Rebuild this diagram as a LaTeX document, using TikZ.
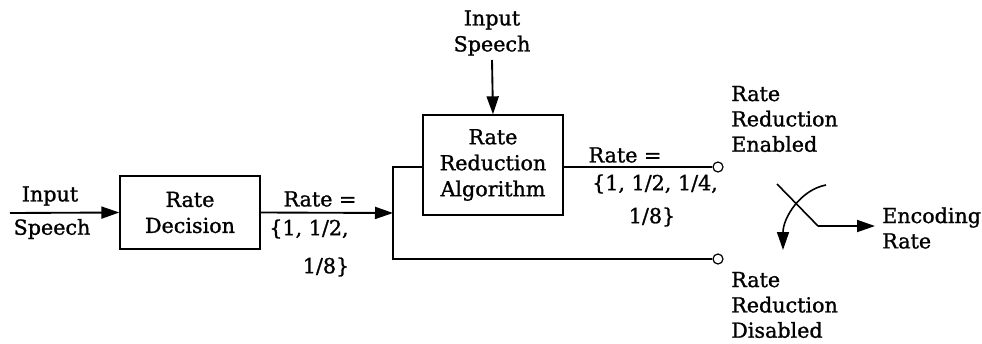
\documentclass[tikz,border=0pt]{standalone}
\usepackage{fontspec}
\setmainfont{DejaVu Serif}[FakeBold=1.2]
\usetikzlibrary{arrows.meta}
\begin{document}
\begin{tikzpicture}[x=0.75pt,y=-0.75pt,
  txt/.style={font=\fontsize{15.5}{19.5}\selectfont, inner sep=0pt, align=center},
  ltxt/.style={font=\fontsize{15.5}{19}\selectfont, inner sep=0pt, align=left, anchor=west},
  block/.style={draw, line width=1pt, txt},
  wire/.style={line width=1.4pt},
  arr/.style={wire, -{Triangle[length=13.5pt,width=9pt]}},
  term/.style={draw, circle, line width=0.9pt, minimum size=7.5pt, inner sep=0pt, fill=white}]
\useasboundingbox (0,0) rectangle (982,343);

% blocks
\node[block, minimum width=105pt, minimum height=54.75pt] (rd) at (190,212.5) {Rate\\Decision};
\node[block, minimum width=105pt, minimum height=75pt] (rra) at (493,165) {Rate\\Reduction\\Algorithm};

% switch terminals
\node[term] (en) at (718,167) {};
\node[term] (dis) at (718,259) {};

% junction points
\coordinate (in) at (10,213);
\coordinate (jm) at (393,213);
\coordinate (jt) at (393,167);
\coordinate (jb) at (393,259);

% input speech into the rate decision
\draw[arr] (in) -- (rd.west);
\node[txt] at (50,196) {Input};
\node[txt] at (52,229) {Speech};

% rate decision output
\draw[arr] (rd.east) -- (jm);
\node[txt] at (320,199) {Rate =};
\node[txt] at (309,229) {\{1, 1/2,};
\node[txt] at (326,267) {1/8\}};

% branch to the algorithm and bypass
\draw[wire] (rra.west |- jt) -- (jt) -- (jb) -- (dis.west);
\draw[wire] (rra.east |- en) -- (en.west);

% second speech input
\node[txt] (sp) at (492,33) {Input\\Speech};
\draw[arr] (492,60) -- (rra.north);

% algorithm output label
\node[txt] at (625,155) {Rate =};
\node[txt] at (655,184) {\{1, 1/2, 1/4,};
\node[txt] at (652,217) {1/8\}};

% terminal labels
\node[ltxt] at (731,119) {Rate\\Reduction\\Enabled};
\node[ltxt] at (731,305) {Rate\\Reduction\\Disabled};

% switch blade and output
\coordinate (b1) at (777,184);
\coordinate (b2) at (818,226);
\coordinate (out) at (875,226);
\draw[wire, line width=1.2pt] (b1) -- (b2);
\draw[arr] (b2) -- (out);
\node[ltxt] at (882,228) {Encoding\\Rate};

% switching direction
\coordinate (a1) at (826,185);
\coordinate (a2) at (783,250);
\draw[arr, line width=1.2pt] (a1) .. controls (800,190) and (783,218) .. (a2);
\end{tikzpicture}
\end{document}
